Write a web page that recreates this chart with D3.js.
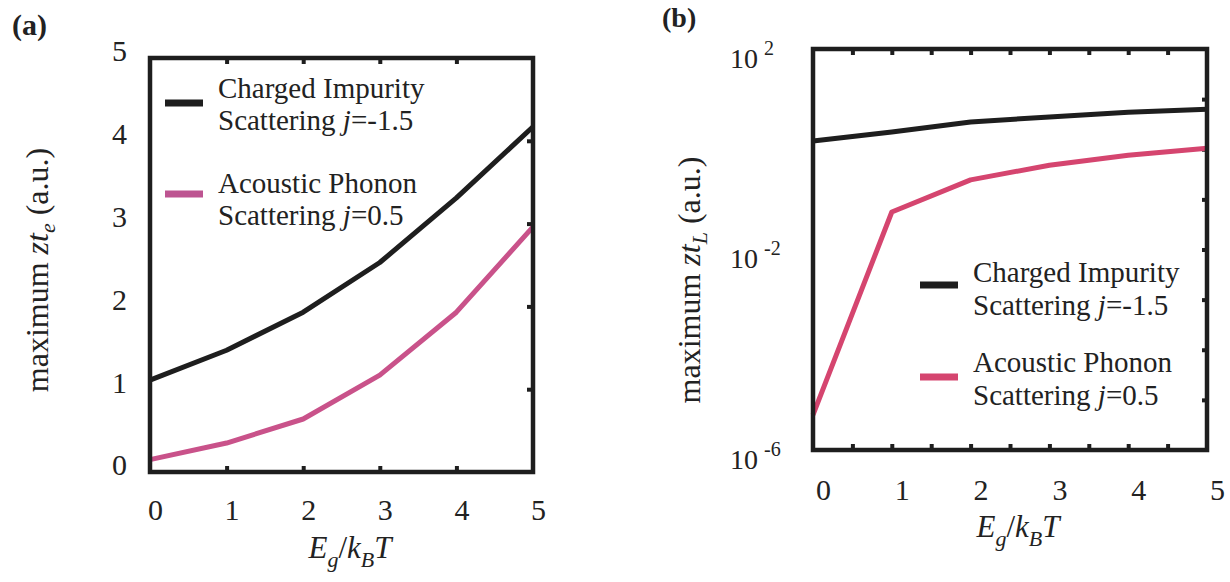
<!DOCTYPE html>
<html><head><meta charset="utf-8">
<script src="https://cdn.jsdelivr.net/npm/d3@7"></script>
<style>
html,body{margin:0;padding:0;background:#fff;}
svg text{font-family:"Liberation Serif","DejaVu Serif",serif !important;fill:#222;}
</style></head>
<body><svg id="c" width="1230" height="582" font-family="Liberation Serif, DejaVu Serif, serif"></svg>
<script>
// ---- data ----
const egkt = [0, 1, 2, 3, 4, 5];
const zteCharged  = [1.11, 1.47, 1.93, 2.53, 3.31, 4.17];
const zteAcoustic = [0.15, 0.35, 0.64, 1.17, 1.93, 2.96];
const ztLCharged  = [1.46, 2.2, 3.5, 4.4, 5.5, 6.3];
const ztLAcoustic = [5e-6, 0.056, 0.245, 0.48, 0.76, 1.05];
const xTickLabels = ["0", "1", "2", "3", "4", "5"];
const yTicksA = [0, 1, 2, 3, 4, 5];
const yTickLabelsA = ["0", "1", "2", "3", "4", "5"];
const yTicksB = [1e2, 1e-2, 1e-6];
const yTickExpB = ["2", "-2", "-6"];
const legendLine1 = ["Charged Impurity", "Acoustic Phonon"];
const legendJ = ["-1.5", "0.5"];

const FONT = "Liberation Serif, DejaVu Serif, serif";
const ink = "#1e1e1e", pinkA = "#c9528a", pinkB = "#d5456f", pinkLegA = "#bd5491";
const svg = d3.select("#c");

function frame(x, y) {
  const [x0, x1] = x.range(), [y0, y1] = y.range();
  svg.append("rect").attr("x", x0).attr("y", y1).attr("width", x1 - x0).attr("height", y0 - y1)
    .attr("fill", "none").attr("stroke", ink).attr("stroke-width", 4.5);
}
function inwardTicks(axis, tr) {
  svg.append("g").attr("transform", tr).call(axis.tickFormat("").tickSizeOuter(0))
    .call(g => g.select(".domain").remove())
    .call(g => g.selectAll("line").attr("stroke", ink).attr("stroke-width", 4));
}
function line(x, y, vals, color) {
  svg.append("path").datum(vals)
    .attr("d", d3.line().x((d, i) => x(egkt[i])).y(d => y(d)))
    .attr("fill", "none").attr("stroke", color).attr("stroke-width", 5)
    .attr("stroke-linejoin", "round");
}
function xLabels(x, ybase, dx) {
  const g = svg.append("g").attr("transform", `translate(0,${ybase})`)
    .call(d3.axisBottom(x).tickValues(egkt).tickSize(0).tickFormat((d, i) => xTickLabels[i]));
  g.attr("font-family", FONT);
  g.select(".domain").remove();
  g.selectAll("text").attr("y", 0).attr("dy", 0).attr("dx", dx).attr("font-size", 30)
    .attr("font-family", FONT).attr("fill", "#222");
}
function txt(sel) { return sel.append("text").attr("font-family", FONT).attr("fill", "#222"); }
function xTitle(cx, by) {
  const t = txt(svg).attr("x", cx).attr("y", by).attr("text-anchor", "middle")
    .attr("font-size", 31).attr("font-style", "italic");
  t.append("tspan").text("E");
  t.append("tspan").attr("dy", 9).attr("font-size", 22).text("g");
  t.append("tspan").attr("dy", -9).attr("font-style", "normal").text("/");
  t.append("tspan").text("k");
  t.append("tspan").attr("dy", 9).attr("font-size", 22).text("B");
  t.append("tspan").attr("dy", -9).text("T");
}
function yTitle(cx, cy, sub) {
  const t = txt(svg).attr("transform", `translate(${cx},${cy}) rotate(-90)`)
    .attr("text-anchor", "middle").attr("font-size", 32);
  t.append("tspan").text("maximum ");
  t.append("tspan").attr("font-style", "italic").text("zt");
  t.append("tspan").attr("font-style", "italic").attr("font-size", 22).attr("dy", 7).text(sub);
  t.append("tspan").attr("dy", -7).text(" (a.u.)");
}
function legend(x0, ys, colors, ls) {
  ys.forEach((yb, k) => {
    svg.append("line").attr("x1", x0).attr("x2", x0 + 38).attr("y1", yb[0]).attr("y2", yb[0])
      .attr("stroke", colors[k]).attr("stroke-width", 7);
    txt(svg).attr("x", x0 + 53).attr("y", yb[1]).attr("font-size", 29).text(legendLine1[k]);
    const t = txt(svg).attr("x", x0 + 53).attr("y", yb[1] + ls).attr("font-size", 29);
    t.append("tspan").text("Scattering ");
    t.append("tspan").attr("font-style", "italic").text("j");
    t.append("tspan").text("=" + legendJ[k]);
  });
}

// ---- panel (a) ----
const xa = d3.scaleLinear().domain([0, 5]).range([150, 533]);
const ya = d3.scaleLinear().domain([0, 5]).range([472, 58]);
inwardTicks(d3.axisBottom(xa).tickValues([1, 2, 3, 4]).tickSizeInner(-6), "translate(0,472)");
inwardTicks(d3.axisTop(xa).tickValues([1, 2, 3, 4]).tickSizeInner(-6), "translate(0,58)");
inwardTicks(d3.axisRight(ya).tickValues([1, 2, 3, 4]).tickSizeInner(-6), "translate(533,0)");
line(xa, ya, zteCharged, ink);
line(xa, ya, zteAcoustic, pinkA);
frame(xa, ya);
xLabels(xa, 520, 5);
{
  const g = svg.append("g").attr("transform", "translate(127,0)")
    .call(d3.axisLeft(ya).tickValues(yTicksA).tickSize(0).tickPadding(0)
      .tickFormat((d, i) => yTickLabelsA[i]));
  g.select(".domain").remove();
  g.selectAll("text").attr("x", 0).attr("dy", "0.33em").attr("y", -7).attr("font-size", 30)
    .attr("font-family", FONT).attr("fill", "#222");
}
xTitle(350, 558);
yTitle(48, 270, "e");
legend(165, [[103, 98], [194, 193]], [ink, pinkLegA], 32);
txt(svg).attr("x", 12).attr("y", 35).attr("font-size", 30).attr("font-weight", "bold").text("(a)");

// ---- panel (b) ----
const xb = d3.scaleLinear().domain([0, 5]).range([813, 1207]);
const yb = d3.scaleLog().domain([1e-6, 1e2]).range([450, 49]);
const halfTicks = d3.range(0.5, 5, 0.5);
inwardTicks(d3.axisBottom(xb).tickValues(halfTicks).tickSizeInner(-6), "translate(0,450)");
inwardTicks(d3.axisTop(xb).tickValues(halfTicks).tickSizeInner(-6), "translate(0,49)");
inwardTicks(d3.axisRight(yb).tickValues([1e1, 1e0, 1e-1, 1e-2, 1e-3, 1e-4, 1e-5]).tickSizeInner(-5), "translate(1207,0)");
line(xb, yb, ztLCharged, ink);
line(xb, yb, ztLAcoustic, pinkB);
frame(xb, yb);
xLabels(xb, 500, 10);
{
  const g = svg.append("g").attr("transform", "translate(730,0)")
    .call(d3.axisLeft(yb).tickValues(yTicksB).tickSize(0).tickFormat(""));
  g.select(".domain").remove();
  g.selectAll(".tick").each(function(d, i) {
    const t = txt(d3.select(this)).attr("x", 0).attr("y", 18).attr("text-anchor", "start")
      .attr("font-size", 28);
    t.append("tspan").text("10");
    t.append("tspan").attr("dx", 6).attr("dy", -13).attr("font-size", 20).text(yTickExpB[i]);
  });
}
xTitle(1018, 537);
yTitle(700, 280, "L");
legend(920, [[285, 282], [377, 372]], [ink, pinkB], 33);
txt(svg).attr("x", 662).attr("y", 27).attr("font-size", 28).attr("font-weight", "bold").text("(b)");
</script></body></html>
